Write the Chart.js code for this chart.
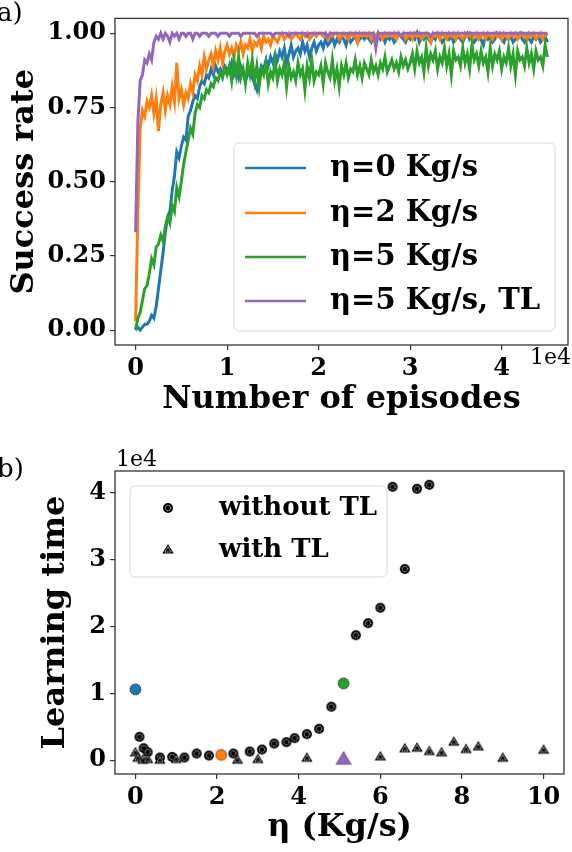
<!DOCTYPE html>
<html>
<head>
<meta charset="utf-8">
<script src="https://cdn.jsdelivr.net/npm/chart.js@4.4.1/dist/chart.umd.min.js"></script>
<style>
  html, body { margin: 0; padding: 0; background: #fff; }
  #wrap { position: relative; width: 572px; height: 852px; overflow: hidden; }
  #top { position: absolute; left: 0; top: 0; }
  #bottom { position: absolute; left: 0; top: 420px; }
</style>
</head>
<body>
<div id="wrap">
  <canvas id="top" width="572" height="420" style="width:572px;height:420px"></canvas>
  <canvas id="bottom" width="572" height="432" style="width:572px;height:432px"></canvas>
</div>
<script>
// ---- panel a) success rate, one sample every 250 episodes ----
var EPISODE_STEP = 250;
var seriesNames = ['η=0 Kg/s', 'η=2 Kg/s', 'η=5 Kg/s', 'η=5 Kg/s, TL'];
var seriesColors = ['#1f77b4', '#ff7f0e', '#2ca02c', '#9467bd'];

var rateEta0 = [
  0, .01, 0, .01, .02, .02, .03, .05, .04, .08, .14, .20, .26, .33, .38, .40, .47, .52, .60, .58,
  .62, .65, .64, .72, .74, .77, .79, .78, .82, .84, .83, .86, .85, .88, .86, .89, .87, .88, .86, .89,
  .88,
  .87, .90, .86, .88, .85, .89, .87, .84, .86, .88, .85, .83, .81, .86, .89, .88, .91, .89, .92, .90,
  .93, .91, .94, .92, .95, .90, .93, .96, .92, .94, .95, .93, .97, .94, .96, .92, .95, .97, .94, .96,
  .97, .95, .98, .96, .97, .99, .96, .98, .97, .99, .98, .96, .99, .97, .98, .99, .97, .98, .99, .98,
  .99, .98, .97, .99, .98, 1, .98, .99, .97, .99,
  .98, .99, .97, .98, 1, .99, .98, .97, .99, .98,
  .99, .98, 1, .97, .99, .98, .99, .98, .97, .99,
  .98, 1, .99, .97, .98, .99, .98, .99, .97, .98,
  .99, .98, .97, .99, 1, .98, .99, .97, .98, .99,
  .98, .96, .99, .98, .99, .97, .98, 1, .99, .98,
  .97, .99, .98, .99, .97, .98, .99, 1, .98, .97,
  .99, .98, .97, .99, .98, .99, .97, .98, .99, .97
];
var rateEta2 = [
  .03, .40, .68, .74, .72, .77, .75, .79, .73, .78, .67, .76, .80, .74, .79, .76, .82, .77, .90, .78,
  .81, .76, .80, .78, .83, .80, .86, .84, .89, .86, .92, .88, .91, .93, .89, .94, .91, .95, .90, .94,
  .96,
  .93, .95, .92, .96, .94, .97, .93, .96, .95, .98, .94, .97, .96, .98, .95, .99, .97, .98, .96, .99,
  .98, .97, .99, 1, .98, .99, 1, .98, .99, 1, .99, .98, 1, .99, 1, .98, .99, 1, .99, 1,
  1, .99, 1, .98, 1, .99, 1, 1, .98, .99,
  1, .99, .98, 1, .99, 1, .97, 1, .99, 1,
  .99, 1, .98, 1, .99, 1, .99, .98, 1, .99,
  1, .99, 1, .98, 1, .99, 1, .98, .99, 1,
  .98, 1, .99, 1, .98, .99, 1, .99, .97, 1,
  .99, 1, .98, 1, .99, .98, 1, .99, 1, .98,
  1, .99, .98, 1, .99, 1, .98, .99, 1, .98,
  .99, 1, .98, 1, .99, .98, 1, .99, 1, .98,
  1, .99, .98, 1, .99, 1, .98, .99, 1, .99,
  .98, 1, .99, 1, .98, .99, 1, .98, .99, 1
];
var rateEta5 = [
  0, .04, .06, .10, .14, .15, .19, .24, .22, .28, .29, .32, .30, .35, .38, .36, .42, .40, .48, .45,
  .50, .56, .60, .64, .68, .66, .73, .76, .75, .79, .78, .81, .80, .83, .82, .85, .84, .87, .85, .88,
  .86,
  .89, .84, .91, .86, .92, .85, .88, .83, .90, .86,
  .91, .84, .89, .82, .88, .86, .90, .83, .87, .85,
  .91, .84, .88, .86, .90, .82, .89, .85, .87, .84,
  .90, .86, .88, .81, .89, .85, .91, .84, .87, .86,
  .89, .83, .90, .87, .85, .91, .84, .88, .82, .89,
  .86, .90, .85, .88, .87, .91, .86, .89, .85, .90,
  .88, .86, .91, .87, .89, .86, .90, .88, .92, .87,
  .89, .91, .88, .90, .87, .92, .89, .91, .88, .90,
  .93, .88, .94, .90, .92, .87, .95, .89, .93, .91,
  .94, .88, .92, .90, .95, .89, .93, .86, .94, .91,
  .92, .89, .95, .90, .93, .88, .96, .91, .93, .89,
  .94, .90, .92, .87, .95, .89, .93, .91, .94, .88,
  .92, .90, .95, .89, .93, .86, .94, .91, .92, .89,
  .95, .90, .93, .88, .94, .91, .92, .89, .96, .92
];
var rateEta5TL = [
  .33, .70, .84, .86, .91, .90, .93, .91, .97, .99, .98, 1, .98, 1, .99, .97, 1, .99, 1, .98,
  1,
  1, .99, 1, 1, .98, 1, 1, .99, 1, 1,
  1, .99, 1, 1, 1, .99, 1, 1, 1, 1,
  .99, 1, 1, 1, 1, .99, 1, 1, 1, 1,
  1, 1, .99, 1, 1, 1, 1, 1, 1, .99,
  1, 1, 1, 1, 1, 1, .99, 1, 1, 1,
  1, 1, 1, 1, .99, 1, 1, 1, 1, 1,
  1, 1, 1, .99, 1, 1, 1, 1, 1, 1,
  1, 1, 1, 1, 1, 1, 1, 1, 1, 1,
  1, 1, 1, 1, .95, 1, 1, 1, 1, 1,
  1, 1, 1, 1, 1, .99, 1, 1, 1, 1,
  1, 1, 1, 1, 1, 1, 1, 1, .99, 1,
  1, 1, 1, 1, 1, 1, 1, 1, 1, 1,
  1, 1, 1, 1, 1, 1, 1, 1, 1, 1,
  1, 1, 1, 1, 1, 1, 1, 1, 1, 1,
  1, 1, 1, 1, 1, 1, 1, 1, 1, 1,
  1, 1, 1, 1, 1, 1, 1, 1, 1, 1
];
var rateTicks = [0, 0.25, 0.5, 0.75, 1.0];
var episodeTicks = [0, 10000, 20000, 30000, 40000];

// ---- panel b) learning time vs eta ----
var etaNoTL  = [0, 0.1, 0.2, 0.3, 0.6, 0.9, 1.2, 1.5, 1.8, 2.1, 2.4, 2.8, 3.1, 3.4, 3.7, 3.9, 4.2, 4.5, 4.8, 5.1, 5.4, 5.7, 6.0, 6.3, 6.6, 6.9, 7.2];
var timeNoTL = [10600, 3500, 1800, 1200, 400, 500, 400, 1000, 700, 800, 1000, 1300, 1600, 2500, 2700, 3300, 3900, 4700, 8000, 11500, 18700, 20500, 22800, 40900, 28600, 40600, 41200];
var etaTL  = [0, 0.06, 0.18, 0.3, 0.6, 1.0, 2.5, 3.0, 4.2, 5.1, 6.0, 6.6, 6.9, 7.2, 7.5, 7.8, 8.1, 8.4, 9.0, 10];
var timeTL = [1100, 300, 0, 100, 0, 100, 0, 100, 300, 100, 500, 1700, 1800, 1300, 1100, 2700, 1600, 2000, 300, 1500];
// runs shown in panel a), coloured like their curves
var hlEta   = [0, 2.1, 5.1];
var hlTime  = [10600, 800, 11500];
var hlTLEta  = [5.1];
var hlTLTime = [100];
var etaTicks = [0, 2, 4, 6, 8, 10];
var timeTicks = [0, 10000, 20000, 30000, 40000];
var legendB = ['without TL', 'with TL'];

var SERIF = '"DejaVu Serif", "Liberation Serif", serif';
var tickFont = { family: SERIF, weight: 'bold', size: 24 };
var titleFont = { family: SERIF, weight: 'bold', size: 32 };

// marker images for the scatter panel
function marker(shape, size, fill, inner, dotted) {
  var c = document.createElement('canvas');
  var s = size + 4;
  c.width = s; c.height = s;
  var g = c.getContext('2d');
  var m = s / 2;
  function path(r) {
    g.beginPath();
    if (shape == 'circle') {
      g.arc(m, m, r, 0, Math.PI * 2);
    } else {
      g.moveTo(m, m - r);
      g.lineTo(m + r * 0.95, m + r * 0.6);
      g.lineTo(m - r * 0.95, m + r * 0.6);
      g.closePath();
    }
  }
  path(size / 2);
  g.fillStyle = fill;
  g.fill();
  if (dotted) {
    g.setLineDash([1.2, 1.2]);
    g.strokeStyle = '#222';
    g.lineWidth = 1;
    g.stroke();
  }
  if (inner) {
    path(size / 2 * 0.55);
    g.setLineDash([1.1, 1.1]);
    g.strokeStyle = inner;
    g.lineWidth = 1;
    g.stroke();
  }
  return c;
}
var dotCircle = marker('circle', 10, '#000', '#fff', false);
var dotTri = marker('tri', 12, '#000', '#fff', false);

function framePlugin(id) {
  return {
    id: id,
    afterDraw: function (chart) {
      var a = chart.chartArea, ctx = chart.ctx;
      ctx.save();
      ctx.strokeStyle = '#333';
      ctx.lineWidth = 1.3;
      ctx.strokeRect(a.left, a.top, a.right - a.left, a.bottom - a.top);
      ctx.restore();
    }
  };
}

function legendBox(ctx, x, y, w, h) {
  ctx.save();
  ctx.beginPath();
  ctx.roundRect(x, y, w, h, 5);
  ctx.fillStyle = 'rgba(255,255,255,0.8)';
  ctx.fill();
  ctx.strokeStyle = '#d6d6d6';
  ctx.lineWidth = 1;
  ctx.stroke();
  ctx.restore();
}

var toXY = function (ys) {
  return ys.map(function (v, i) { return { x: i * EPISODE_STEP, y: v }; });
};
var rates = [rateEta0, rateEta2, rateEta5, rateEta5TL];

new Chart(document.getElementById('top'), {
  type: 'line',
  data: {
    datasets: rates.map(function (r, i) {
      return {
        label: seriesNames[i],
        data: toXY(r),
        borderColor: seriesColors[i],
        borderWidth: 3,
        pointRadius: 0,
        tension: 0,
        order: 4 - i
      };
    })
  },
  options: {
    responsive: false,
    animation: false,
    layout: { padding: { top: 12, right: 4, left: 0, bottom: 0 } },
    plugins: { legend: { display: false }, tooltip: { enabled: false } },
    scales: {
      x: {
        type: 'linear', min: -2250, max: 47250,
        afterBuildTicks: function (s) { s.ticks = episodeTicks.map(function (v) { return { value: v }; }); },
        afterFit: function (s) { s.height = 75; },
        ticks: { font: tickFont, color: '#000', padding: 4, maxRotation: 0, autoSkip: false,
                 callback: function (v) { return v / 10000; } },
        grid: { drawOnChartArea: false, drawTicks: true, tickLength: 5, color: '#333', lineWidth: 1.2 },
        border: { display: false },
        title: { display: true, text: 'Number of episodes', font: titleFont, color: '#000', padding: { bottom: 1, top: 0 } }
      },
      y: {
        min: -0.05, max: 1.05,
        afterBuildTicks: function (s) { s.ticks = rateTicks.map(function (v) { return { value: v }; }); },
        afterFit: function (s) { s.width = 115; },
        ticks: { font: tickFont, color: '#000', padding: 4,
                 callback: function (v) { return v.toFixed(2); } },
        grid: { drawOnChartArea: false, drawTicks: true, tickLength: 5, color: '#333', lineWidth: 1.2 },
        border: { display: false },
        title: { display: true, text: 'Success rate', font: titleFont, color: '#000', padding: { top: 5, bottom: 0 } }
      }
    }
  },
  plugins: [framePlugin('frameA'), {
    id: 'extrasA',
    afterDraw: function (chart) {
      var ctx = chart.ctx;
      legendBox(ctx, 234, 143, 321, 188);
      ctx.save();
      ctx.font = 'bold 29px ' + SERIF;
      ctx.textBaseline = 'middle';
      var rows = [168, 213, 257, 301];
      for (var i = 0; i < seriesNames.length; i++) {
        ctx.strokeStyle = seriesColors[i];
        ctx.lineWidth = 2.6;
        ctx.beginPath();
        ctx.moveTo(245, rows[i]);
        ctx.lineTo(306, rows[i]);
        ctx.stroke();
        ctx.fillStyle = '#000';
        ctx.fillText(seriesNames[i], 330, rows[i]);
      }
      ctx.font = '22px ' + SERIF;
      ctx.textAlign = 'right';
      ctx.fillText('1e4', 571, 358);
      ctx.textAlign = 'left';
      ctx.font = '26px ' + SERIF;
      ctx.fillText('a)', -3, 14);
      ctx.restore();
    }
  }]
});

var pts = function (xs, ys) {
  return xs.map(function (v, i) { return { x: v, y: ys[i] }; });
};

new Chart(document.getElementById('bottom'), {
  type: 'scatter',
  data: {
    datasets: [
      { label: legendB[0], data: pts(etaNoTL, timeNoTL), pointStyle: dotCircle, pointRadius: 5, order: 4 },
      { label: legendB[1], data: pts(etaTL, timeTL), pointStyle: dotTri, pointRadius: 5, order: 3 },
      { label: 'highlight', data: pts(hlEta, hlTime),
        pointStyle: [marker('circle', 11, seriesColors[0], null, true),
                     marker('circle', 11, seriesColors[1], null, true),
                     marker('circle', 11, seriesColors[2], null, true)],
        pointRadius: 5, order: 2 },
      { label: 'highlight TL', data: pts(hlTLEta, hlTLTime),
        pointStyle: marker('tri', 16, seriesColors[3], null, true), pointRadius: 7, order: 1 }
    ]
  },
  options: {
    responsive: false,
    animation: false,
    layout: { padding: { top: 51, right: 4, left: 0, bottom: 0 } },
    plugins: { legend: { display: false }, tooltip: { enabled: false } },
    scales: {
      x: {
        type: 'linear', min: -0.5, max: 10.5,
        afterBuildTicks: function (s) { s.ticks = etaTicks.map(function (v) { return { value: v }; }); },
        afterFit: function (s) { s.height = 78; },
        ticks: { font: tickFont, color: '#000', padding: 4, maxRotation: 0, autoSkip: false },
        grid: { drawOnChartArea: false, drawTicks: true, tickLength: 5, color: '#333', lineWidth: 1.2 },
        border: { display: false },
        title: { display: true, text: 'η (Kg/s)', font: titleFont, color: '#000', padding: { bottom: 5, top: 0 } }
      },
      y: {
        min: -2060, max: 43260,
        afterBuildTicks: function (s) { s.ticks = timeTicks.map(function (v) { return { value: v }; }); },
        afterFit: function (s) { s.width = 115; },
        ticks: { font: tickFont, color: '#000', padding: 4,
                 callback: function (v) { return v / 10000; } },
        grid: { drawOnChartArea: false, drawTicks: true, tickLength: 5, color: '#333', lineWidth: 1.2 },
        border: { display: false },
        title: { display: true, text: 'Learning time', font: titleFont, color: '#000', padding: { top: 36, bottom: 0 } }
      }
    }
  },
  plugins: [framePlugin('frameB'), {
    id: 'extrasB',
    afterDraw: function (chart) {
      var ctx = chart.ctx;
      legendBox(ctx, 130, 66, 257, 91);
      ctx.save();
      var rows = [88, 130];
      var icons = [dotCircle, dotTri];
      ctx.font = 'bold 26px ' + SERIF;
      ctx.textBaseline = 'middle';
      ctx.fillStyle = '#000';
      for (var i = 0; i < legendB.length; i++) {
        ctx.drawImage(icons[i], 168 - icons[i].width / 2, rows[i] - icons[i].height / 2);
        ctx.fillText(legendB[i], 219, rows[i]);
      }
      ctx.font = '22px ' + SERIF;
      ctx.fillText('1e4', 116, 40);
      ctx.font = '26px ' + SERIF;
      ctx.fillText('b)', -3, 50);
      ctx.restore();
    }
  }]
});
</script>
</body>
</html>
